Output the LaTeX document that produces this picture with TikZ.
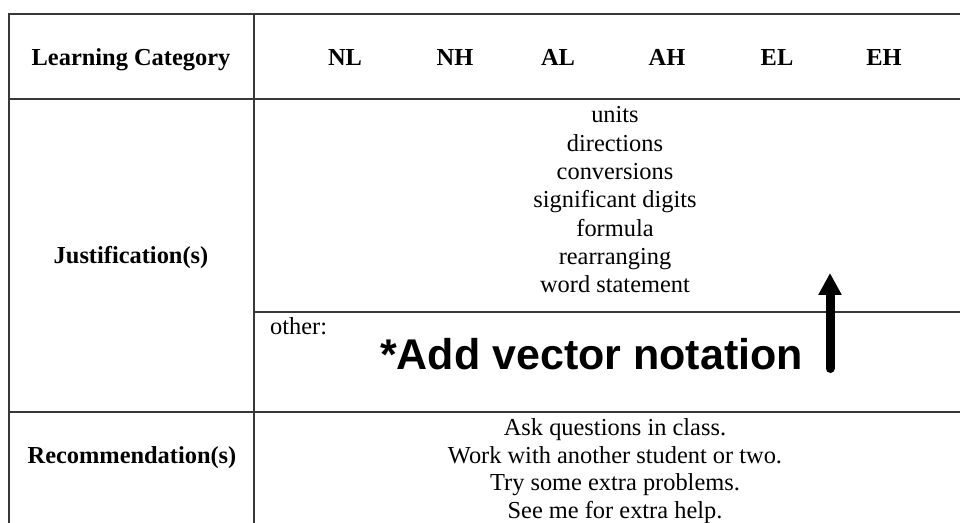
\documentclass[tikz,border=0pt]{standalone}
\usepackage{fontspec}
\setmainfont{Liberation Serif}
\newfontfamily\arialfont{Liberation Sans}
\usetikzlibrary{arrows.meta}
\tikzset{
  rule/.style={draw=black!78, line width=1.6bp},
  hdr/.style={anchor=base, inner sep=0pt, font=\fontsize{24.4bp}{28bp}\selectfont\bfseries},
  body/.style={anchor=base, inner sep=0pt, font=\fontsize{24.4bp}{28bp}\selectfont},
  note/.style={anchor=base, inner sep=0pt, font=\arialfont\fontsize{43bp}{48bp}\selectfont\bfseries},
  bigarrow/.style={line width=9bp, line cap=round, -{Triangle[width=22bp,length=22bp]}}
}
\begin{document}
\begin{tikzpicture}[x=1bp,y=-1bp]
\useasboundingbox (0,0) rectangle (960,523);
% table rules
\draw[rule] (960,14) -- (9,14) -- (9,523);
\draw[rule] (254,14) -- (254,523);
\draw[rule] (9,99) -- (960,99);
\draw[rule] (254,312) -- (960,312);
\draw[rule] (9,412) -- (960,412);
% header
\node[hdr] (lc) at (131,66) {Learning Category};
\node[hdr] (nl) at (345,66) {NL};
\node[hdr] (nh) at (455,66) {NH};
\node[hdr] (al) at (558,66) {AL};
\node[hdr] (ah) at (667,66) {AH};
\node[hdr] (el) at (777,66) {EL};
\node[hdr] (eh) at (884,66) {EH};
% row labels
\node[hdr] (just) at (131,264) {Justification(s)};
\node[hdr] (rec) at (132,463) {Recommendation(s)};
% justifications
\node[body] (j1) at (615,123) {units};
\node[body] (j2) at (615,151.3) {directions};
\node[body] (j3) at (615,179.6) {conversions};
\node[body] (j4) at (615,207.9) {significant digits};
\node[body] (j5) at (615,236.2) {formula};
\node[body] (j6) at (615,264.5) {rearranging};
\node[body] (j7) at (615,292.8) {word statement};
\node[body, anchor=base west] (other) at (270,335) {other:};
% note and arrow
\node[note] (addnote) at (591.5,370) {*Add vector notation};
\coordinate (arrowfoot) at (830,368.5);
\coordinate (arrowtip) at (830,273);
\draw[bigarrow] (arrowfoot) -- (arrowtip);
% recommendations
\node[body] (r1) at (615,435) {Ask questions in class.};
\node[body] (r2) at (615,463) {Work with another student or two.};
\node[body] (r3) at (615,490.5) {Try some extra problems.};
\node[body] (r4) at (615,518) {See me for extra help.};
\end{tikzpicture}
\end{document}
